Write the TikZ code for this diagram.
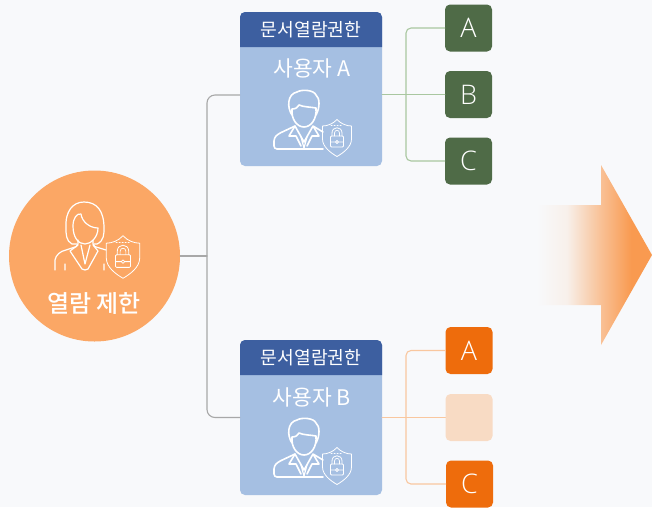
\documentclass[tikz,border=0pt]{standalone}
\usepackage{fontspec}
\setmainfont{Noto Sans CJK KR}
\newfontfamily\letterfont[UprightFont={* Light}]{Open Sans}
\newfontfamily\rootfont[UprightFont={* Medium}]{Noto Sans CJK KR}
\definecolor{pagec}{HTML}{F8F9FB}
\definecolor{rootc}{HTML}{FBA765}
\definecolor{headc}{HTML}{3D5FA0}
\definecolor{cardc}{HTML}{A5BFE2}
\definecolor{greenc}{HTML}{4F6B47}
\definecolor{greenl}{HTML}{A9C7A0}
\definecolor{orangec}{HTML}{EE6C0C}
\definecolor{orangef}{HTML}{F8DBC4}
\definecolor{orangel}{HTML}{F9C79F}
\definecolor{trunkc}{HTML}{A8A8A8}
\definecolor{arrowc}{HTML}{F99A50}
\pgfdeclarehorizontalshading{arrowfade}{100bp}{color(0bp)=(pagec); color(25bp)=(pagec); color(38bp)=(pagec!70!orangef); color(53bp)=(arrowc!60!pagec); color(66bp)=(arrowc); color(100bp)=(arrowc)}
\tikzset{
  rootnode/.style={circle,fill=rootc,minimum size=171pt,inner sep=0pt},
  cardnode/.style={rectangle,fill=cardc,rounded corners=5pt,minimum width=142pt,inner sep=0pt},
  headtxt/.style={text=white,font=\fontsize{18.2}{20}\selectfont,inner sep=0pt},
  usertxt/.style={text=white,font=\fontsize{21.5}{23}\selectfont,inner sep=0pt},
  permbox/.style={rectangle,rounded corners=5pt,minimum width=47pt,minimum height=47pt,inner sep=0pt,text=white,font=\fontsize{27}{29}\letterfont},
  trunkline/.style={draw=trunkc,line width=1.1pt,rounded corners=8pt},
  manicon/.pic={
    \draw[white,line width=1.6pt] (-12,3) .. controls (-17,-4) and (-17,-18) .. (-7,-20) .. controls (-2,-23) and (10,-22) .. (12,-17) .. controls (16,-14) and (16,-4) .. (12,3);
    \draw[white,line width=1.6pt] (-12,-3) .. controls (-8,-3) and (-6,-5) .. (-5,-7) .. controls (-1,-5) and (7,-5) .. (12,-4) .. controls (13,7) and (7,15) .. (0,15) .. controls (-7,15) and (-13,7) .. (-12,-3);
    \draw[white,line width=1.6pt,rounded corners=3pt] (19,37) -- (-30,37) -- (-30,26) -- (-26,22) -- (-9,14);
    \draw[white,line width=1.6pt] (-9,14) -- (-15,24) -- (-8,24) -- (-3,34) (9,14) -- (15,24) -- (8,24) -- (3,34) (-9,14) -- (0,30) -- (9,14) (9,14) -- (19,20);
    \draw[white,line width=1.2pt] (-3,25) -- (0,36) -- (3,25);
  },
  womanicon/.pic={
    \draw[white,line width=1.2pt] (-8,7) -- (-13,7) .. controls (-19,4) and (-19,-3) .. (-19,-9) .. controls (-20,-26) and (-12,-35) .. (-1,-35) .. controls (12,-35) and (19,-26) .. (19,-9) .. controls (19,-3) and (19,4) .. (12,7) -- (9,7);
    \draw[white,line width=1.2pt] (-12,-11) .. controls (-12,-19) and (-8,-24) .. (-4,-23) .. controls (-3,-15) and (5,-9) .. (13,-9) .. controls (13,0) and (6,7) .. (0,7) .. controls (-7,7) and (-12,0) .. (-12,-11);
    \draw[white,line width=1.2pt,rounded corners=2pt] (-30,33) -- (-30,21) -- (-25,15) -- (-7,9) -- (-7,3) (8,3) -- (8,9) -- (21,13);
    \draw[white,line width=1.2pt] (-7,8) -- (-15,14) -- (-3,32) -- (0,33) -- (3,32) -- (13,14) -- (8,8) (-4,8) -- (0,27) -- (5,8) (-20,27) -- (-20,33) (19,27) -- (19,33);
  },
  shieldicon/.pic={
    \draw[white,line width=.8pt] (0,-18.5) .. controls (-4,-14) and (-10,-12) .. (-14.5,-12) -- (-14.5,1) .. controls (-14.5,9) and (-6,15) .. (0,18.5) .. controls (6,15) and (14.5,9) .. (14.5,1) -- (14.5,-12) .. controls (10,-12) and (4,-14) .. (0,-18.5) -- cycle;
    \draw[white,line width=.8pt,rounded corners=1pt] (-6.5,-2) rectangle (6.5,9);
    \draw[white,line width=.8pt] (-6.5,4) -- (-1.5,4) (1.5,4) -- (6.5,4) (0,4) circle (1.5pt);
    \draw[white,line width=.8pt] (-5,-2) -- (-5,-5) .. controls (-5,-12) and (5,-12) .. (5,-5) -- (5,-2);
    \draw[white,line width=.7pt] (-2.5,-2) -- (-2.5,-5) .. controls (-2.5,-8.5) and (2.5,-8.5) .. (2.5,-5) -- (2.5,-2);
    \draw[white,line width=1pt,dotted] (-6,-13) -- (6,-13);
  },
}
\begin{document}
\begin{tikzpicture}[x=1pt,y=-1pt,line join=round,line cap=round]
\useasboundingbox[fill=pagec] (0,0) rectangle (652,507);
% left
\node (rootn) [rootnode] at (94.5,256) {};
\node [text=white,font=\fontsize{24}{26}\rootfont,inner sep=0pt] (roottxt) at (94,303) {열람 제한};
\pic at (85,237) {womanicon};
\pic[scale=1.15] at (123,257) {shieldicon};
% cards
\node (cardA) [cardnode,minimum height=154pt] at (311,89) {};
\node (cardB) [cardnode,minimum height=155pt] at (311,417.5) {};
\fill[headc] (240,47) [rounded corners=5pt] -- (240,12) -- (382,12) [sharp corners] -- (382,47) -- cycle;
\fill[headc] (240,375) [rounded corners=5pt] -- (240,340) -- (382,340) [sharp corners] -- (382,375) -- cycle;
\node (headA) [headtxt] at (311,30) {문서열람권한};
\node (headB) [headtxt] at (311,358) {문서열람권한};
\node (userA) [usertxt] at (312,68) {사용자 A};
\node (userB) [usertxt] at (312,397) {사용자 B};
\pic at (304,112) {manicon};
\pic at (337,138) {shieldicon};
\pic at (304,440) {manicon};
\pic at (337,466) {shieldicon};
% boxes
\node (boxAa) [permbox,fill=greenc] at (468.5,28) {A};
\node (boxAb) [permbox,fill=greenc] at (468.5,94.5) {B};
\node (boxAc) [permbox,fill=greenc] at (468.5,161) {C};
\node (boxBa) [permbox,fill=orangec] at (469,350.5) {A};
\node (boxBb) [permbox,fill=orangef] at (469,417.5) {};
\node (boxBc) [permbox,fill=orangec] at (469.5,484) {C};
% connectors
\coordinate (trunk) at (207,256);
\coordinate (busA) at (406,94.5);
\coordinate (busB) at (406,417.5);
\draw[trunkline] (rootn.east) -- (trunk);
\draw[trunkline] ([yshift=-6pt]cardA.west) -| (trunk) |- (cardB.west);
\draw[greenl,line width=1.1pt,rounded corners=5pt] (boxAa.west) -| (busA) |- (boxAc.west);
\draw[greenl,line width=1.1pt] (boxAb.west) -- (boxAb.west -| cardA.east);
\draw[orangel,line width=1.1pt,rounded corners=5pt] (boxBa.west) -| (busB) |- (boxBc.west);
\draw[orangel,line width=1.1pt] (boxBb.west) -- (boxBb.west -| cardB.east);
% arrow
\shade[shading=arrowfade] (537,205) -- (601,205) -- (601,165) -- (652,255) -- (601,345) -- (601,305) -- (537,305) -- cycle;
\end{tikzpicture}
\end{document}
